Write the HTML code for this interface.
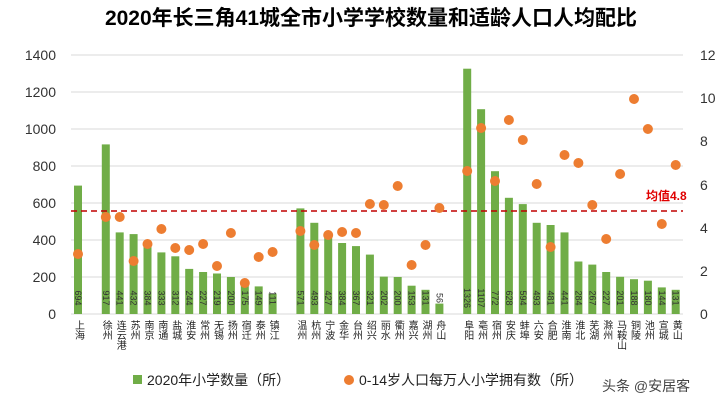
<!DOCTYPE html>
<html><head><meta charset="utf-8"><style>
html,body{margin:0;padding:0;background:#fff;}
svg{display:block;font-family:"Liberation Sans","Noto Sans CJK SC",sans-serif;}
.ax{font-size:14px;fill:#333;}
.v{font-size:9px;fill:#333;}
.c{font-size:10px;fill:#222;}
</style></head><body>
<svg width="724" height="408" viewBox="0 0 724 408" xmlns="http://www.w3.org/2000/svg">
<text x="371" y="25" text-anchor="middle" font-size="21" font-weight="bold" fill="#000">2020年长三角41城全市小学学校数量和适龄人口人均配比</text>
<g stroke="#d9d9d9" stroke-width="1">
<line x1="71" y1="55" x2="683" y2="55"/><line x1="71" y1="92" x2="683" y2="92"/><line x1="71" y1="129" x2="683" y2="129"/><line x1="71" y1="166" x2="683" y2="166"/><line x1="71" y1="203" x2="683" y2="203"/><line x1="71" y1="240" x2="683" y2="240"/><line x1="71" y1="277" x2="683" y2="277"/><line x1="71" y1="314" x2="683" y2="314"/>
</g>
<g class="ax" text-anchor="end">
<text x="56" y="60">1400</text><text x="56" y="97">1200</text><text x="56" y="134">1000</text><text x="56" y="171">800</text><text x="56" y="208">600</text><text x="56" y="245">400</text><text x="56" y="282">200</text><text x="56" y="319">0</text>
</g>
<g class="ax" text-anchor="start">
<text x="700" y="60">12</text><text x="700" y="103">10</text><text x="700" y="146">8</text><text x="700" y="190">6</text><text x="700" y="233">4</text><text x="700" y="276">2</text><text x="700" y="319">0</text>
</g>
<g fill="#70AD47">
<rect x="74" y="185.6" width="8" height="128.4"/>
<rect x="101.8" y="144.4" width="8" height="169.6"/>
<rect x="115.7" y="232.4" width="8" height="81.6"/>
<rect x="129.6" y="234.1" width="8" height="79.9"/>
<rect x="143.5" y="243" width="8" height="71"/>
<rect x="157.4" y="252.4" width="8" height="61.6"/>
<rect x="171.3" y="256.3" width="8" height="57.7"/>
<rect x="185.2" y="268.9" width="8" height="45.1"/>
<rect x="199.1" y="272" width="8" height="42"/>
<rect x="213" y="273.5" width="8" height="40.5"/>
<rect x="226.9" y="277" width="8" height="37"/>
<rect x="240.8" y="281.6" width="8" height="32.4"/>
<rect x="254.7" y="286.4" width="8" height="27.6"/>
<rect x="268.6" y="293.5" width="8" height="20.5"/>
<rect x="296.4" y="208.4" width="8" height="105.6"/>
<rect x="310.3" y="222.8" width="8" height="91.2"/>
<rect x="324.2" y="235" width="8" height="79"/>
<rect x="338.1" y="243" width="8" height="71"/>
<rect x="352" y="246.1" width="8" height="67.9"/>
<rect x="365.9" y="254.6" width="8" height="59.4"/>
<rect x="379.8" y="276.6" width="8" height="37.4"/>
<rect x="393.7" y="277" width="8" height="37"/>
<rect x="407.6" y="285.7" width="8" height="28.3"/>
<rect x="421.5" y="289.8" width="8" height="24.2"/>
<rect x="435.4" y="303.6" width="8" height="10.4"/>
<rect x="463.2" y="68.7" width="8" height="245.3"/>
<rect x="477.1" y="109.2" width="8" height="204.8"/>
<rect x="491" y="171.2" width="8" height="142.8"/>
<rect x="504.9" y="197.8" width="8" height="116.2"/>
<rect x="518.8" y="204.1" width="8" height="109.9"/>
<rect x="532.7" y="222.8" width="8" height="91.2"/>
<rect x="546.6" y="225" width="8" height="89"/>
<rect x="560.5" y="232.4" width="8" height="81.6"/>
<rect x="574.4" y="261.5" width="8" height="52.5"/>
<rect x="588.3" y="264.6" width="8" height="49.4"/>
<rect x="602.2" y="272" width="8" height="42"/>
<rect x="616.1" y="276.8" width="8" height="37.2"/>
<rect x="630" y="279.2" width="8" height="34.8"/>
<rect x="643.9" y="280.7" width="8" height="33.3"/>
<rect x="657.8" y="287.4" width="8" height="26.6"/>
<rect x="671.7" y="289.8" width="8" height="24.2"/>
</g>
<line x1="71" y1="211" x2="683" y2="211" stroke="#C00000" stroke-width="1.6" stroke-dasharray="6,4"/>
<text x="646" y="200" font-size="12" font-weight="bold" fill="#E00000">均值4.8</text>
<g fill="#ED7D31">
<circle cx="78" cy="254" r="5"/><circle cx="105.8" cy="217" r="5"/><circle cx="119.7" cy="217" r="5"/><circle cx="133.6" cy="261" r="5"/><circle cx="147.5" cy="244" r="5"/><circle cx="161.4" cy="229" r="5"/><circle cx="175.3" cy="248" r="5"/><circle cx="189.2" cy="250" r="5"/><circle cx="203.1" cy="244" r="5"/><circle cx="217" cy="266" r="5"/><circle cx="230.9" cy="233" r="5"/><circle cx="244.8" cy="283" r="5"/><circle cx="258.7" cy="257" r="5"/><circle cx="272.6" cy="252" r="5"/>
<circle cx="300.4" cy="231" r="5"/><circle cx="314.3" cy="245" r="5"/><circle cx="328.2" cy="235" r="5"/><circle cx="342.1" cy="232" r="5"/><circle cx="356" cy="233" r="5"/><circle cx="369.9" cy="204" r="5"/><circle cx="383.8" cy="205" r="5"/><circle cx="397.7" cy="186" r="5"/><circle cx="411.6" cy="265" r="5"/><circle cx="425.5" cy="245" r="5"/><circle cx="439.4" cy="208" r="5"/>
<circle cx="467.2" cy="171" r="5"/><circle cx="481.1" cy="128" r="5"/><circle cx="495" cy="181" r="5"/><circle cx="508.9" cy="120" r="5"/><circle cx="522.8" cy="140" r="5"/><circle cx="536.7" cy="184" r="5"/><circle cx="550.6" cy="247" r="5"/><circle cx="564.5" cy="155" r="5"/><circle cx="578.4" cy="163" r="5"/><circle cx="592.3" cy="205" r="5"/><circle cx="606.2" cy="239" r="5"/><circle cx="620.1" cy="174" r="5"/><circle cx="634" cy="99" r="5"/><circle cx="647.9" cy="129" r="5"/><circle cx="661.8" cy="224" r="5"/><circle cx="675.7" cy="165" r="5"/>
</g>
<g class="v" text-anchor="middle">
<text transform="translate(75,298) rotate(90)">694</text>
<text transform="translate(102.8,298) rotate(90)">917</text>
<text transform="translate(116.7,298) rotate(90)">441</text>
<text transform="translate(130.6,298) rotate(90)">432</text>
<text transform="translate(144.5,298) rotate(90)">384</text>
<text transform="translate(158.4,298) rotate(90)">333</text>
<text transform="translate(172.3,298) rotate(90)">312</text>
<text transform="translate(186.2,298) rotate(90)">244</text>
<text transform="translate(200.1,298) rotate(90)">227</text>
<text transform="translate(214,298) rotate(90)">219</text>
<text transform="translate(227.9,298) rotate(90)">200</text>
<text transform="translate(241.8,298) rotate(90)">175</text>
<text transform="translate(255.7,298) rotate(90)">149</text>
<text transform="translate(269.6,298) rotate(90)">111</text>
<text transform="translate(297.4,298) rotate(90)">571</text>
<text transform="translate(311.3,298) rotate(90)">493</text>
<text transform="translate(325.2,298) rotate(90)">427</text>
<text transform="translate(339.1,298) rotate(90)">384</text>
<text transform="translate(353,298) rotate(90)">367</text>
<text transform="translate(366.9,298) rotate(90)">321</text>
<text transform="translate(380.8,298) rotate(90)">202</text>
<text transform="translate(394.7,298) rotate(90)">200</text>
<text transform="translate(408.6,298) rotate(90)">153</text>
<text transform="translate(422.5,298) rotate(90)">131</text>
<text transform="translate(436.4,298) rotate(90)">56</text>
<text transform="translate(464.2,298) rotate(90)">1326</text>
<text transform="translate(478.1,298) rotate(90)">1107</text>
<text transform="translate(492,298) rotate(90)">772</text>
<text transform="translate(505.9,298) rotate(90)">628</text>
<text transform="translate(519.8,298) rotate(90)">594</text>
<text transform="translate(533.7,298) rotate(90)">493</text>
<text transform="translate(547.6,298) rotate(90)">481</text>
<text transform="translate(561.5,298) rotate(90)">441</text>
<text transform="translate(575.4,298) rotate(90)">284</text>
<text transform="translate(589.3,298) rotate(90)">267</text>
<text transform="translate(603.2,298) rotate(90)">227</text>
<text transform="translate(617.1,298) rotate(90)">201</text>
<text transform="translate(631,298) rotate(90)">188</text>
<text transform="translate(644.9,298) rotate(90)">180</text>
<text transform="translate(658.8,298) rotate(90)">144</text>
<text transform="translate(672.7,298) rotate(90)">131</text>
</g>
<g class="c" writing-mode="tb">
<text x="78" y="320">上海</text>
<text x="105.8" y="320">徐州</text><text x="119.7" y="320">连云港</text><text x="133.6" y="320">苏州</text><text x="147.5" y="320">南京</text><text x="161.4" y="320">南通</text><text x="175.3" y="320">盐城</text><text x="189.2" y="320">淮安</text><text x="203.1" y="320">常州</text><text x="217" y="320">无锡</text><text x="230.9" y="320">扬州</text><text x="244.8" y="320">宿迁</text><text x="258.7" y="320">泰州</text><text x="272.6" y="320">镇江</text>
<text x="300.4" y="320">温州</text><text x="314.3" y="320">杭州</text><text x="328.2" y="320">宁波</text><text x="342.1" y="320">金华</text><text x="356" y="320">台州</text><text x="369.9" y="320">绍兴</text><text x="383.8" y="320">丽水</text><text x="397.7" y="320">衢州</text><text x="411.6" y="320">嘉兴</text><text x="425.5" y="320">湖州</text><text x="439.4" y="320">舟山</text>
<text x="467.2" y="320">阜阳</text><text x="481.1" y="320">亳州</text><text x="495" y="320">宿州</text><text x="508.9" y="320">安庆</text><text x="522.8" y="320">蚌埠</text><text x="536.7" y="320">六安</text><text x="550.6" y="320">合肥</text><text x="564.5" y="320">淮南</text><text x="578.4" y="320">淮北</text><text x="592.3" y="320">芜湖</text><text x="606.2" y="320">滁州</text><text x="620.1" y="320">马鞍山</text><text x="634" y="320">铜陵</text><text x="647.9" y="320">池州</text><text x="661.8" y="320">宣城</text><text x="675.7" y="320">黄山</text>
</g>
<rect x="133" y="375" width="9" height="9" fill="#70AD47"/>
<text x="147" y="385" font-size="14" fill="#222">2020年小学数量（所）</text>
<circle cx="349" cy="380" r="5" fill="#ED7D31"/>
<text x="359" y="385" font-size="14" fill="#222">0-14岁人口每万人小学拥有数（所）</text>
<text x="602" y="391" font-size="14" fill="#444">头条 @安居客</text>
</svg>
</body></html>
